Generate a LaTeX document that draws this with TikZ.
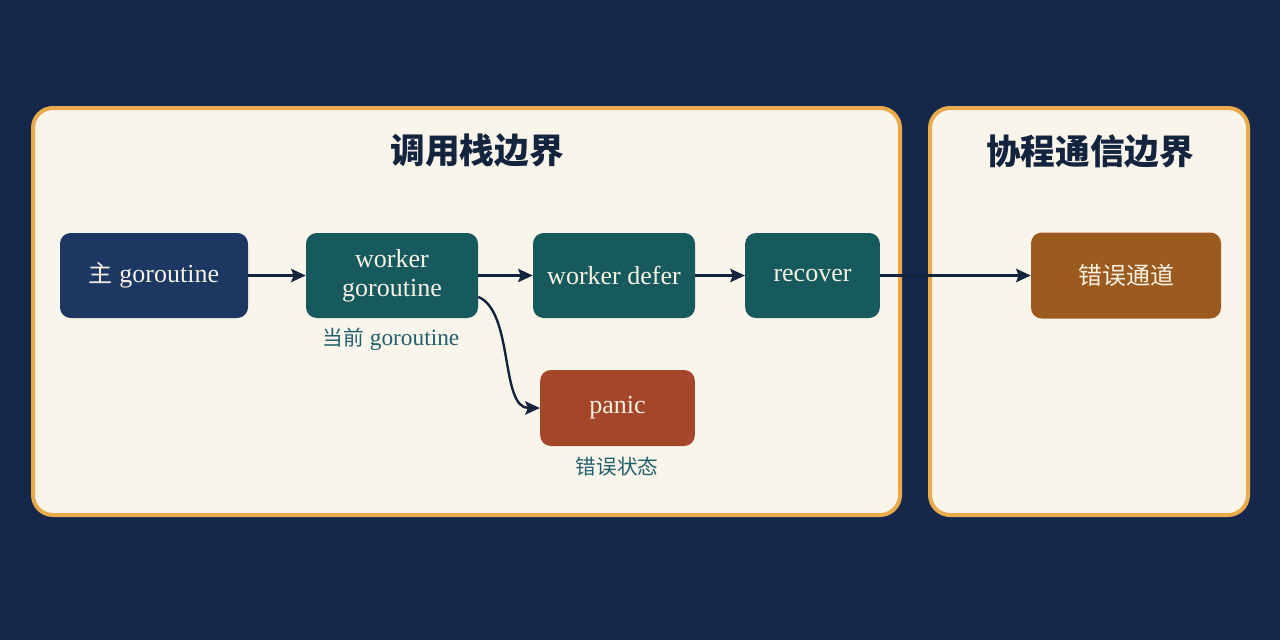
\documentclass[tikz,border=0pt]{standalone}
\usepackage{fontspec}
\setmainfont{Liberation Serif}
\newfontfamily\cjk{Noto Sans CJK SC}
\usetikzlibrary{arrows.meta}
\definecolor{bgnavy}{HTML}{15274A}
\definecolor{panelcream}{HTML}{FAF5EA}
\definecolor{panelorange}{HTML}{E9AA4B}
\definecolor{boxnavy}{HTML}{1B3762}
\definecolor{boxteal}{HTML}{165A5D}
\definecolor{boxrust}{HTML}{A3462A}
\definecolor{boxbrown}{HTML}{9B5B1F}
\definecolor{labelteal}{HTML}{1F5F6E}
\definecolor{inknavy}{HTML}{13243F}
\definecolor{boxtext}{HTML}{F7F1E3}

\begin{document}
\begin{tikzpicture}[x=0.75pt,y=-0.75pt,
    panel/.style={draw=panelorange,line width=3pt,fill=panelcream,rounded corners=15pt},
    box/.style={rounded corners=8pt,inner sep=0pt,text=boxtext,align=center,
      minimum height=63.75pt,font=\fontsize{19.5}{21}\selectfont},
    title/.style={text=inknavy,font=\cjk\bfseries\fontsize{26}{30}\selectfont},
    note/.style={text=labelteal,font=\fontsize{17.5}{20}\selectfont},
    flow/.style={-{Stealth[length=11pt,width=10pt,inset=2pt]},line width=1.8pt,draw=inknavy}]
      % background and the two boundaries
      \fill[bgnavy] (0,0) rectangle (1280,640);
      \draw[panel] (33,108) rectangle (900,515);
      \draw[panel] (930,108) rectangle (1248,515);
      \node[title] (stacktitle) at (477,150) {调用栈边界};
      \node[title] (chantitle) at (1090,151) {协程通信边界};
      % call stack
      \node[box,fill=boxnavy,minimum width=141pt] (maingo) at (154,275.5) {{\cjk\fontsize{18}{20}\selectfont 主} goroutine};
      \node[box,fill=boxteal,minimum width=129pt] (workergo) at (392,275.5) {worker\\[1pt]goroutine};
      \node[box,fill=boxteal,minimum width=121.5pt] (workerdefer) at (614,275.5) {worker defer};
      \node[box,fill=boxteal,minimum width=101pt] (rec) at (812.5,275.5) {recover};
      \node[box,fill=boxrust,minimum width=116pt,minimum height=57pt] (pn) at (617.5,408) {panic};
      \node[box,fill=boxbrown,minimum width=142.5pt,minimum height=64.5pt,font=\cjk\fontsize{18}{20}\selectfont] (errchan) at (1126,275.5) {错误通道};
      \node[note] (curlabel) at (391,339) {{\cjk\fontsize{15.5}{18}\selectfont 当前} goroutine};
      \node[note,font=\cjk\fontsize{15.5}{18}\selectfont] (errlabel) at (617,467) {错误状态};
      % connectors
      \draw[flow] (maingo) -- (workergo);
      \draw[flow] (workergo) -- (workerdefer);
      \draw[flow] (workerdefer) -- (rec);
      \draw[flow] (rec) -- (errchan);
      \draw[flow] ([yshift=-16pt]workergo.east) .. controls (514,312) and (500,408) .. (pn.west);
\end{tikzpicture}
\end{document}
